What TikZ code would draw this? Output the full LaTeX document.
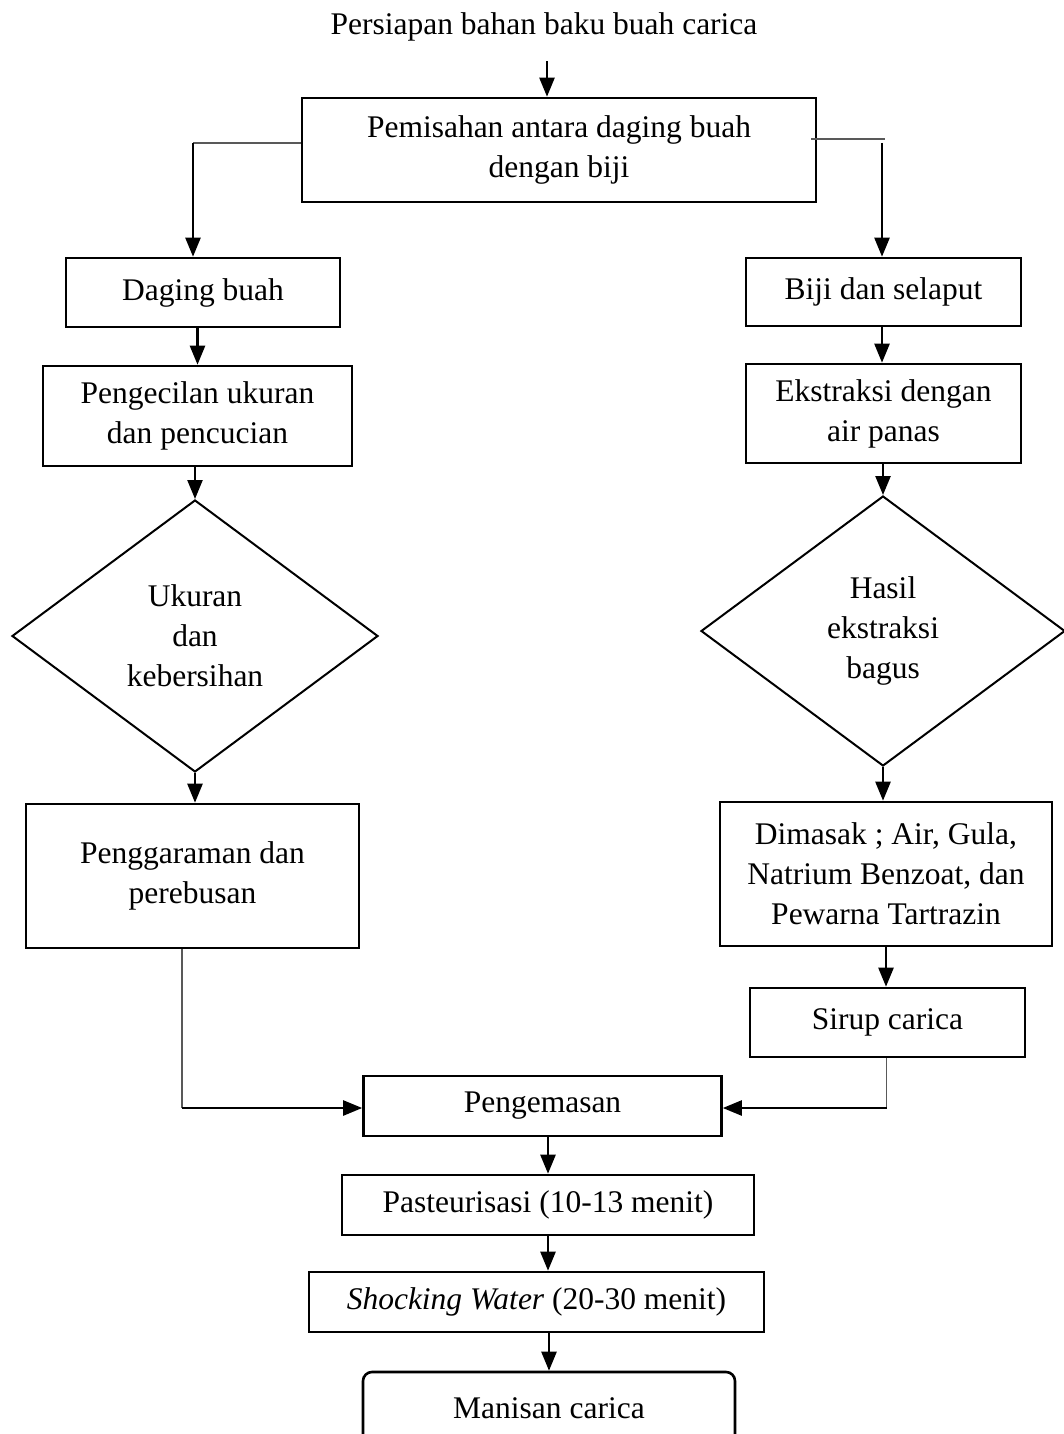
\documentclass[tikz,border=0pt]{standalone}
\usepackage{fontspec}
\setmainfont{Liberation Serif}
\usetikzlibrary{shapes.geometric,arrows.meta}
\begin{document}
\begin{tikzpicture}[x=1pt,y=-1pt,
  every node/.style={font=\fontsize{31.5pt}{40pt}\selectfont, align=center},
  stepbox/.style={draw, line width=2.6pt, inner sep=0pt, minimum width=#1},
  decision/.style={draw, diamond, line width=2pt, inner sep=0pt},
  arr/.style={line width=2.4pt, -{Triangle[length=19pt,width=15pt]}},
  thinln/.style={line width=1.2pt, black!65}]
\useasboundingbox (0,0) rectangle (1064,1434);
\clip (0,0) rectangle (1064,1434);

% start and split
\node[inner sep=0pt] (t) at (544,27) {Persiapan bahan baku buah carica};
\node[stepbox=514pt, minimum height=104pt] (pem) at (559,150) {Pemisahan antara daging buah\\dengan biji};

% fruit flesh branch
\node[stepbox=274pt, minimum height=69pt] (dag) at (203,292.5) {Daging buah};
\node[stepbox=309pt, minimum height=100pt] (pgc) at (197.5,416) {Pengecilan ukuran\\dan pencucian};
\node[decision, minimum width=366pt, minimum height=272pt] (dL) at (195,636)
  {\fontsize{31.5pt}{38.5pt}\selectfont Ukuran\\dan\\kebersihan};
\node[stepbox=333pt, minimum height=144pt] (pgr) at (192.5,876) {Penggaraman dan\\perebusan};

% seed branch
\node[stepbox=275pt, minimum height=68pt] (biji) at (883.5,292) {Biji dan selaput};
\node[stepbox=275pt, minimum height=99pt] (eks) at (883.5,413.5) {Ekstraksi dengan\\air panas};
\node[decision, minimum width=364pt, minimum height=270pt] (dR) at (883,631)
  {\fontsize{31.5pt}{39pt}\selectfont Hasil\\ekstraksi\\bagus};
\node[stepbox=332pt, minimum height=144pt] (dim) at (886,874)
  {\fontsize{31.5pt}{39pt}\selectfont Dimasak ; Air, Gula,\\Natrium Benzoat, dan\\Pewarna Tartrazin};
\node[stepbox=275pt, minimum height=69pt] (sir) at (887.5,1022.5) {Sirup carica};

% common tail
\node[stepbox=358pt, minimum height=60pt] (kemas) at (542.5,1106) {Pengemasan};
\node[stepbox=412pt, minimum height=60pt] (pas) at (548,1205) {Pasteurisasi (10-13 menit)};
\node[stepbox=455pt, minimum height=60pt] (shk) at (536.5,1302) {\textit{Shocking Water} (20-30 menit)};
\node[stepbox=372pt, minimum height=72pt, rounded corners=9pt] (man) at (549,1408) {Manisan carica};

% connectors: top
\draw[arr] ([yshift=-20pt]t.south -| 547,0) -- (547,0 |- pem.north);
\coordinate (lk) at (193,143);
\draw[thinln] (pem.west |- lk) -- (lk);
\draw[arr] (lk) -- (lk |- dag.north);
\coordinate (rk) at (885,139);
\coordinate (rk2) at (882,143);
\draw[thinln] ([xshift=-6pt]pem.east |- rk) -- (rk);
\draw[arr] (rk2) -- (rk2 |- biji.north);

% connectors: left column
\draw[arr] (pgc.north |- dag.south) -- (pgc.north);
\draw[arr] (dL.north |- pgc.south) -- (dL.north);
\draw[arr] (dL.south) -- (dL.south |- pgr.north);

% connectors: right column
\draw[arr] (biji.south -| rk2) -- (rk2 |- eks.north);
\draw[arr] (dR.north |- eks.south) -- (dR.north);
\draw[arr] (dR.south) -- (dR.south |- dim.north);
\draw[arr] (dim.south) -- (dim.south |- sir.north);

% joins into packaging
\coordinate (lb) at (182,1108);
\draw[thinln] (lb |- pgr.south) -- (lb);
\draw[arr] (lb) -- (kemas.west |- lb);
\coordinate (rb) at (886.5,1108);
\draw[thinln] (rb |- sir.south) -- (rb);
\draw[arr] (rb) -- (kemas.east |- rb);

% tail arrows
\draw[arr] (pas.north |- kemas.south) -- (pas.north);
\draw[arr] (pas.south) -- (pas.south |- shk.north);
\draw[arr] (man.north |- shk.south) -- (man.north);
\end{tikzpicture}
\end{document}
